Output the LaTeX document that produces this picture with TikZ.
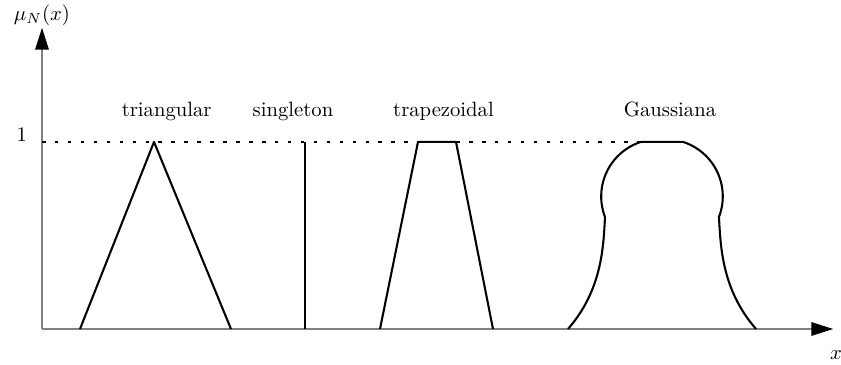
\documentclass[tikz,border=0pt]{standalone}
\usepackage{amsmath,amssymb}
\usepackage{xcolor}
\usepackage{tikz}
\usetikzlibrary{arrows.meta,positioning}

\begin{document}
\begin{tikzpicture}[>={Triangle[length=3.7mm,width=2.3mm,black]},
    axis/.style={->,gray,line width=0.6pt},
    mf/.style={black,line width=1pt,line join=round},
    lbl/.style={anchor=base,inner sep=0pt}]
  \useasboundingbox (-0.714,-0.612) rectangle (13.583,5.593);

  % axes
  \draw[axis] (0,0) -- (13.45,0);
  \draw[axis] (0,0) -- (0,5.12);
  \node[above,inner sep=1pt] (ylab) at (0,5.12) {$\mu_N(x)$};
  \node (xlab) at (13.5,-0.44) {$x$};
  \node[anchor=base east,inner sep=0pt] (one) at (-0.25,3.18) {1};

  % level 1
  \draw[line width=1pt,dash pattern=on 0.6mm off 1.6mm] (0,3.18) -- (10.18,3.18);

  % membership functions
  \draw[mf] (0.646,0) -- (1.904,3.18) -- (3.213,0);
  \draw[mf] (4.471,0) -- (4.471,3.18);
  \draw[mf] (5.746,0) -- (6.392,3.18) -- (7.038,3.18) -- (7.667,0);
  \draw[mf] (8.942,0) .. controls (9.52,0.663) and (9.544,1.394) .. (9.571,1.904)
                      arc[start angle=201,end angle=108,radius=0.9745]
                      -- (10.9,3.18)
                      arc[start angle=72,end angle=-21,radius=0.9745]
                      .. controls (11.536,1.394) and (11.56,0.663) .. (12.138,0);

  \node[lbl] (tri)   at (2.12,3.604)  {triangular};
  \node[lbl] (sing)  at (4.267,3.604) {singleton};
  \node[lbl] (trap)  at (6.826,3.604) {trapezoidal};
  \node[lbl] (gauss) at (10.676,3.604) {Gaussiana};
\end{tikzpicture}
\end{document}
